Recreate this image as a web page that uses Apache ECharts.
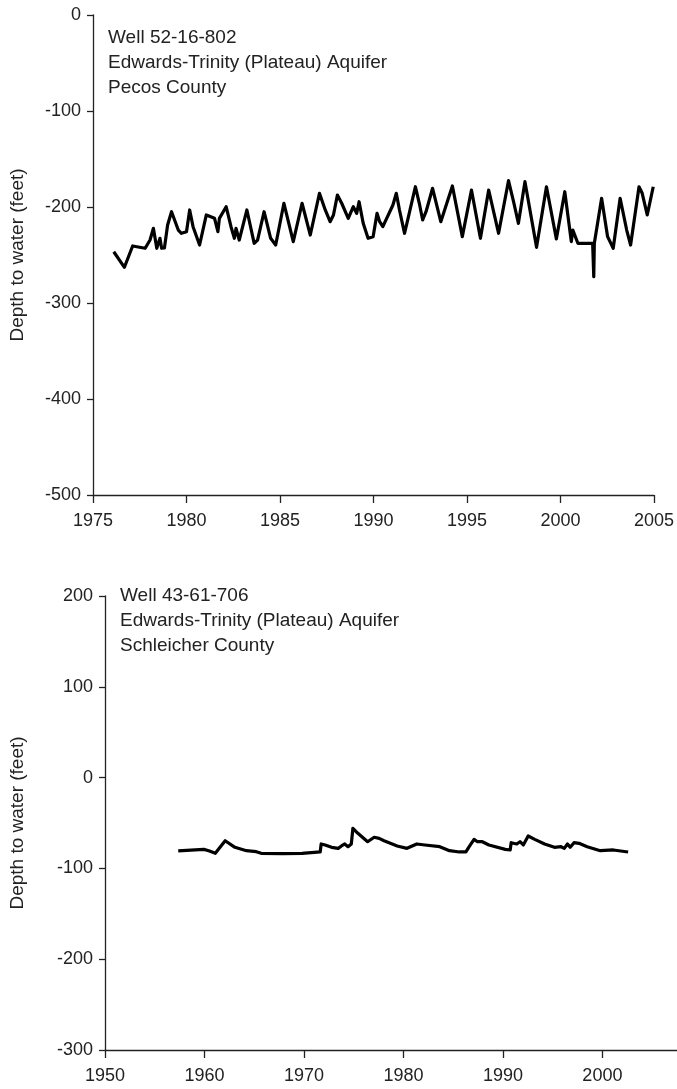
<!DOCTYPE html>
<html><head><meta charset="utf-8">
<script src="https://cdn.jsdelivr.net/npm/echarts@6/dist/echarts.min.js"></script>
<style>html,body{margin:0;padding:0;background:#fff}#c{width:677px;height:1089px}</style>
</head><body><div id="c"></div>
<script>
// Top well 52-16-802 (Pecos County)
const topYears = [1976.11,1976.68,1977.12,1977.79,1978.05,1978.23,1978.41,1978.58,1978.67,1978.82,1978.99,1979.2,1979.56,1979.73,1980.0,1980.17,1980.35,1980.7,1981.06,1981.5,1981.68,1981.76,1982.12,1982.38,1982.56,1982.65,1982.82,1983.23,1983.62,1983.8,1984.15,1984.5,1984.77,1985.21,1985.71,1986.18,1986.62,1987.11,1987.42,1987.68,1987.86,1988.07,1988.3,1988.65,1988.92,1989.1,1989.23,1989.45,1989.71,1989.98,1990.19,1990.33,1990.5,1991.04,1991.22,1991.39,1991.66,1991.83,1992.24,1992.45,1992.63,1992.81,1993.16,1993.6,1994.22,1994.75,1995.24,1995.72,1996.16,1996.69,1997.22,1997.49,1997.75,1998.1,1998.72,1999.25,1999.78,2000.23,2000.58,2000.66,2000.93,2001.72,2001.78,2001.81,2002.2,2002.52,2002.82,2003.19,2003.54,2003.75,2004.2,2004.37,2004.64,2004.96];
const topDepth = [-246.6,-262.8,-240.6,-243,-234.4,-222.2,-243,-232.6,-243,-242.7,-218.8,-204.9,-224,-227.4,-225.7,-203.1,-220.5,-239.6,-208.3,-211.8,-225.7,-211.8,-199.7,-220.5,-232.6,-222.2,-234.4,-203.1,-237.8,-234.4,-204.9,-232.6,-239.6,-196.1,-236.1,-196.1,-229.2,-185.7,-203.1,-215.3,-208.3,-187.5,-196.1,-211.8,-199.7,-206.6,-194.5,-217,-232.6,-230.9,-206.6,-215.3,-220.5,-197.9,-185.7,-203.1,-227.4,-213.5,-178.9,-196.1,-213.5,-204.9,-180.5,-215.3,-178.1,-230.9,-182.3,-232.6,-182.3,-227.4,-172.6,-194.5,-217,-173.6,-242,-178.9,-233.3,-184.1,-236.1,-224,-237.8,-237.8,-272.6,-237.8,-190.9,-230.9,-243,-190.9,-224,-239.6,-178.9,-185.7,-208.3,-178.9];
// Bottom well 43-61-706 (Schleicher County)
const botYears = [1957.36,1959.93,1960.43,1961.09,1962.08,1963.06,1964.22,1965.2,1965.7,1967.84,1969.81,1971.63,1971.73,1972.12,1972.78,1973.44,1973.77,1974.1,1974.43,1974.76,1974.92,1975.42,1976.4,1977.06,1977.56,1978.05,1978.87,1979.37,1980.36,1981.34,1982.16,1983.65,1984.63,1985.62,1986.28,1986.61,1987.1,1987.44,1987.93,1988.59,1990.24,1990.73,1990.83,1991.39,1991.72,1992.05,1992.54,1993.2,1994.19,1995.18,1995.84,1996.17,1996.49,1996.76,1997.15,1997.65,1998.47,1999.79,2001.1,2002.59];
const botDepth = [-80.8,-79,-80.5,-83.4,-69.5,-76.8,-80.5,-81.6,-83.4,-83.8,-83.4,-81.9,-73.1,-74.2,-76.8,-77.9,-75.3,-73.1,-76.1,-73.1,-55.8,-61.3,-70.6,-65.7,-66.9,-69.5,-73.1,-75.3,-77.9,-73.1,-74.2,-76.1,-80.5,-81.9,-81.9,-76.1,-68,-70.6,-70.6,-74.2,-79,-79.7,-71.7,-73.1,-70.6,-74.2,-64.3,-68,-73.1,-76.8,-76.1,-77.9,-73.1,-76.8,-71.7,-72.4,-76.1,-80.5,-79.7,-81.9];
const topXTicks = [1975,1980,1985,1990,1995,2000,2005];
const botXTicks = [1950,1960,1970,1980,1990,2000];
const yName = 'Depth to water (feet)';
const topLabel = 'Well 52-16-802\nEdwards-Trinity (Plateau) Aquifer\nPecos County';
const botLabel = 'Well 43-61-706\nEdwards-Trinity (Plateau) Aquifer\nSchleicher County';

const FONT = '"Liberation Sans", Arial, sans-serif';
const AX = '#222';
const zip = (a, b) => a.map((v, i) => [v, b[i]]);
function xAx(idx, min, max, ticks) {
  return {
    type: 'value', gridIndex: idx, min: min, max: max, interval: ticks[1]-ticks[0],
    axisLine: {show: true, onZero: false, lineStyle: {color: AX, width: 1.3}},
    axisTick: {show: true, length: 8, inside: false, lineStyle: {color: AX, width: 1.3}, customValues: ticks},
    axisLabel: {color: '#222', fontSize: 18, fontFamily: FONT, margin: 17, customValues: ticks, showMinLabel: true, showMaxLabel: true,
      formatter: v => String(v)},
    splitLine: {show: false}
  };
}
function yAx(idx, min, max, gap) {
  return {
    type: 'value', gridIndex: idx, min: min, max: max, interval: 100,
    name: yName, nameLocation: 'middle', nameGap: gap,
    nameTextStyle: {color: '#222', fontSize: 19, fontFamily: FONT},
    axisLine: {show: true, onZero: false, lineStyle: {color: AX, width: 1.3}},
    axisTick: {show: true, length: 6, lineStyle: {color: AX, width: 1.3}},
    axisLabel: {color: '#222', fontSize: 18, fontFamily: FONT, margin: 12, formatter: v => String(v)},
    splitLine: {show: false}
  };
}
const chart = echarts.init(document.getElementById('c'), null, {renderer: 'canvas'});
chart.setOption({
  animation: false,
  backgroundColor: '#fff',
  title: [
    {text: topLabel, left: 108, top: 25, padding: 0, textStyle: {fontSize: 19, fontWeight: 'normal', color: '#222', fontFamily: FONT, lineHeight: 25}},
    {text: botLabel, left: 120, top: 583, padding: 0, textStyle: {fontSize: 19, fontWeight: 'normal', color: '#222', fontFamily: FONT, lineHeight: 25}}
  ],
  grid: [
    {left: 91, top: 15, right: 20, bottom: 594, containLabel: false},
    {left: 103, top: 596, right: 0, bottom: 39, containLabel: false}
  ],
  xAxis: [xAx(0, 1975, 2005, topXTicks), xAx(1, 1950, 2007.5, botXTicks)],
  yAxis: [yAx(0, -500, 0, 66), yAx(1, -300, 200, 78)],
  series: [
    {type: 'line', xAxisIndex: 0, yAxisIndex: 0, data: zip(topYears, topDepth), showSymbol: false, lineStyle: {color: '#000', width: 3.2, join: 'round'}, clip: false},
    {type: 'line', xAxisIndex: 1, yAxisIndex: 1, data: zip(botYears, botDepth), showSymbol: false, lineStyle: {color: '#000', width: 3.2, join: 'round'}, clip: false}
  ]
});
</script></body></html>
